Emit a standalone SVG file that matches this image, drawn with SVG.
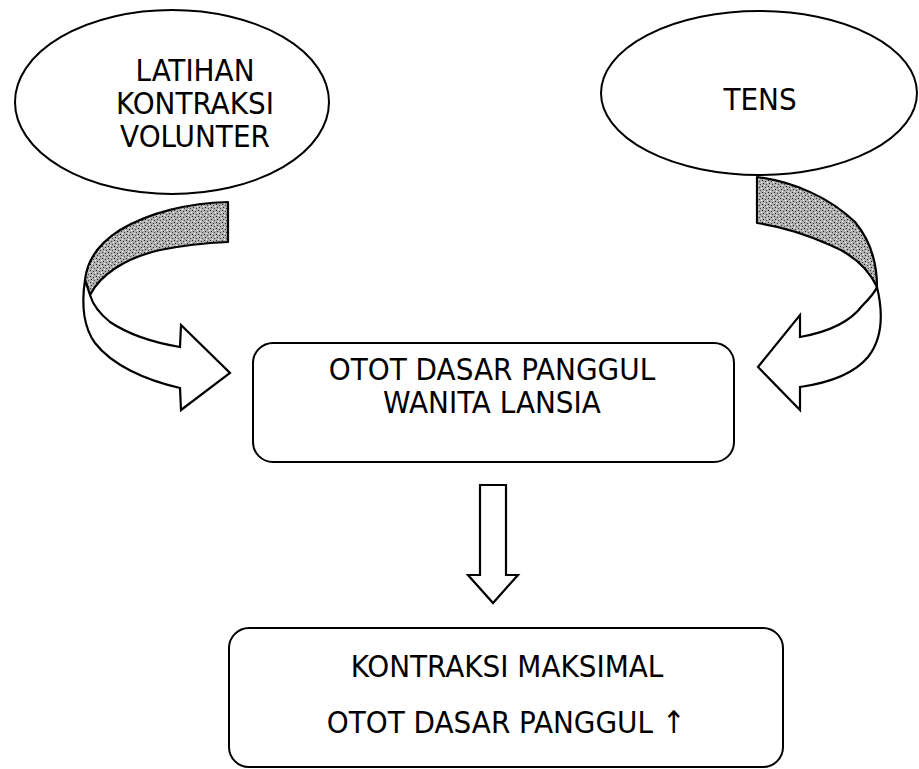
<svg xmlns="http://www.w3.org/2000/svg" width="919" height="769" viewBox="0 0 919 769">
<defs>
<pattern id="stip" width="6" height="6" patternUnits="userSpaceOnUse">
<rect width="6" height="6" fill="#b0b0b0"/>
<rect x="0" y="0" width="1" height="1" fill="#222"/>
<rect x="3" y="1" width="1" height="1" fill="#333"/>
<rect x="1" y="3" width="1" height="1" fill="#222"/>
<rect x="4" y="4" width="1" height="1" fill="#444"/>
<rect x="5" y="2" width="1" height="1" fill="#fff"/>
<rect x="2" y="5" width="1" height="1" fill="#fff"/>
</pattern>
</defs>
<style>
.shape{fill:#fff;stroke:#000;stroke-width:2}
.band{fill:url(#stip);stroke:#000;stroke-width:2.2;stroke-linejoin:round}
.arr{fill:#fff;stroke:#000;stroke-width:2.2;stroke-linejoin:miter}
.t{font-family:"DejaVu Sans Condensed","DejaVu Sans",sans-serif;font-stretch:condensed;font-size:31px;fill:#000;text-anchor:middle}
</style>
<rect width="919" height="769" fill="#fff"/>

<g id="latihan">
<ellipse class="shape" cx="172" cy="102" rx="157" ry="92"/>
<text class="t" x="195" y="81">LATIHAN<tspan x="195" dy="33">KONTRAKSI</tspan><tspan x="195" dy="33">VOLUNTER</tspan></text>
</g>

<g id="tens">
<ellipse class="shape" cx="759" cy="93" rx="158" ry="82"/>
<text class="t" x="760" y="110">TENS</text>
</g>

<g id="otot">
<rect class="shape" x="253" y="343" width="481" height="119" rx="20" ry="20"/>
<text class="t" x="492" y="380">OTOT DASAR PANGGUL<tspan x="492" dy="33">WANITA LANSIA</tspan></text>
</g>

<g id="kontraksi">
<rect class="shape" x="229" y="628" width="554" height="139" rx="20" ry="20"/>
<text class="t" x="507" y="677">KONTRAKSI MAKSIMAL</text>
<text class="t" x="506" y="733">OTOT DASAR PANGGUL ↑</text>
</g>

<g id="connectors">
<!-- left curved arrow -->
<path class="band" d="M228,202 C190,203 150,212 120,230 C98,244 87,260 85,280 L90,295 C100,275 125,258 160,250 C185,245 205,243 228,242 Z"/>
<path class="arr" d="M85,280 C82,300 82,325 95,343 C112,365 145,380 180,388 L181,410 L230,373 L181,325 L180,347 C150,342 125,332 110,322 C100,314 93,305 90,295 Z"/>
<!-- right curved arrow -->
<path class="band" d="M757,177 C795,182 830,198 855,222 C870,240 877,262 877,287 C868,268 852,254 830,245 C808,235 785,227 757,223 Z"/>
<path class="arr" d="M877,287 C883,312 883,338 868,357 C853,375 828,383 800,387 L800,410 L758,367 L800,315 L800,337 C828,332 850,322 862,306 C870,298 875,292 877,287 Z"/>
<!-- down arrow -->
<path class="arr" d="M480,485 L506,485 L506,575 L518,575 L493,603 L468,575 L480,575 Z"/>
</g>
</svg>
